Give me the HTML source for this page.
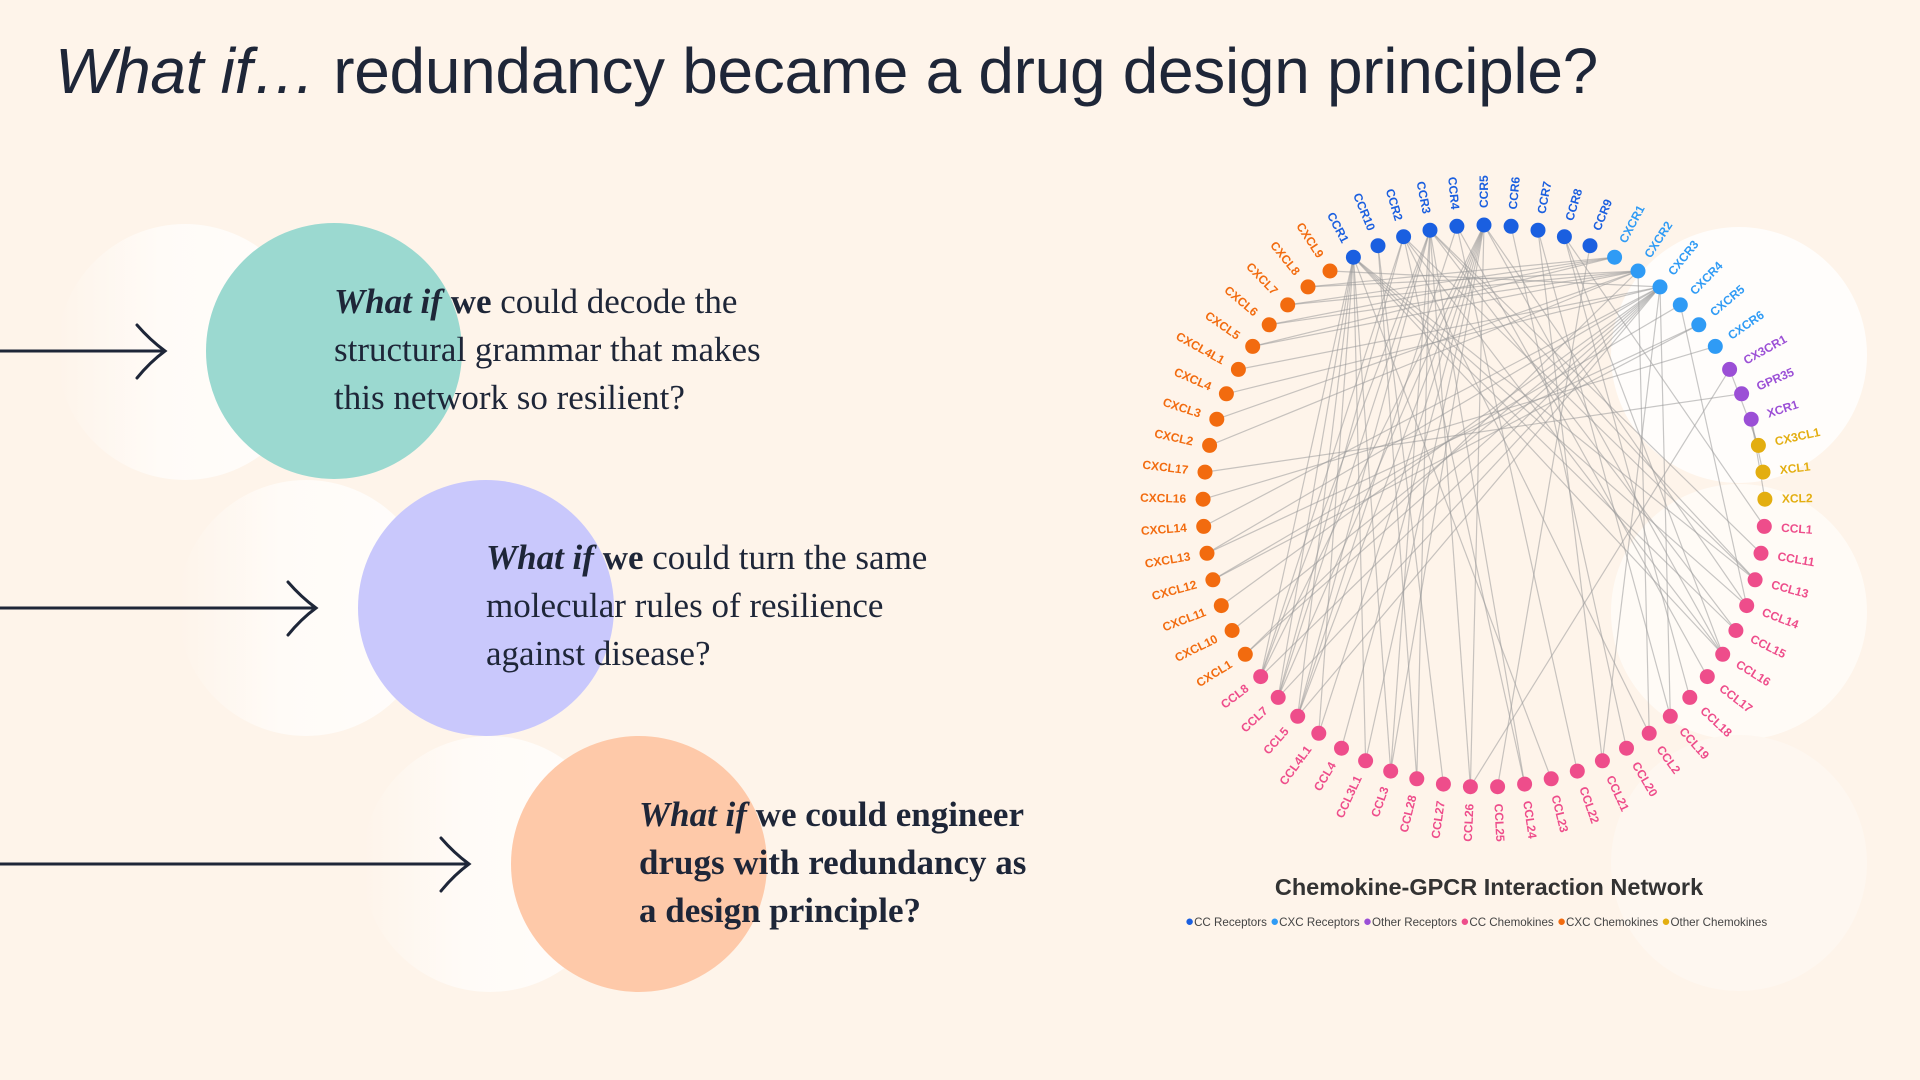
<!DOCTYPE html>
<html><head><meta charset="utf-8"><style>
html,body{margin:0;padding:0}
body{width:1920px;height:1080px;background:#fef4ea;position:relative;overflow:hidden;font-family:"Liberation Sans",sans-serif}
.c{position:absolute;border-radius:50%}
.pale{background:linear-gradient(90deg,#fef4ea 0%,#fffbf7 40%,#fffdfb 100%)}
.t{position:absolute;font-family:"Liberation Serif",serif;font-size:35px;line-height:48px;color:#1e2638;white-space:nowrap}
.t i{font-weight:bold}
h1{position:absolute;left:55px;top:34px;margin:0;font-weight:500;font-size:64px;color:#1e2638;letter-spacing:-0.3px;white-space:nowrap}
</style></head><body>
<h1><i>What if…</i> redundancy became a drug design principle?</h1>

<div class="c pale" style="left:1611px;top:227px;width:256px;height:256px;background:#fffdfb"></div>
<div class="c pale" style="left:1611px;top:484px;width:256px;height:256px;background:#fffbf6"></div>
<div class="c pale" style="left:1611px;top:735px;width:256px;height:256px;background:#fef7f0"></div>

<div class="c pale" style="left:57px;top:224px;width:256px;height:256px"></div>
<div class="c" style="left:206px;top:223px;width:256px;height:256px;background:#9bd9d0"></div>
<div class="c pale" style="left:178px;top:480px;width:256px;height:256px"></div>
<div class="c" style="left:358px;top:480px;width:256px;height:256px;background:#c9c8fc"></div>
<div class="c pale" style="left:362px;top:736px;width:256px;height:256px"></div>
<div class="c" style="left:511px;top:736px;width:256px;height:256px;background:#fec9a9"></div>

<svg style="position:absolute;left:0;top:0" width="700" height="1080">
<g fill="none" stroke="#1e2638" stroke-width="3" stroke-linecap="round">
<path d="M0 351H165M137 325Q150 340 165 351Q150 362 137 378"/>
<path d="M0 608H316M288 582Q301 597 316 608Q301 619 288 635"/>
<path d="M0 864H469M441 838Q454 853 469 864Q454 875 441 891"/>
</g></svg>

<div class="t" style="left:334px;top:278px"><i>What if</i> <b>we</b> could decode the<br>structural grammar that makes<br>this network so resilient?</div>
<div class="t" style="left:486px;top:534px"><i>What if</i> <b>we</b> could turn the same<br>molecular rules of resilience<br>against disease?</div>
<div class="t" style="left:639px;top:791px;font-weight:bold"><i>What if</i> we could engineer<br>drugs with redundancy as<br>a design principle?</div>

<svg id="net" style="position:absolute;left:0;top:0" width="1920" height="1080"></svg>
<div style="position:absolute;left:1189px;top:874px;width:600px;text-align:center;font-weight:bold;font-size:23.5px;color:#333">Chemokine-GPCR Interaction Network</div>
<div style="position:absolute;left:1185px;top:913px;font-size:11.6px;color:#444;white-space:nowrap">
<span style="color:#1a5fe0;font-size:15px">●</span>CC Receptors <span style="color:#2f9bf5;font-size:15px">●</span>CXC Receptors <span style="color:#9b4fd6;font-size:15px">●</span>Other Receptors <span style="color:#ee4d8b;font-size:15px">●</span>CC Chemokines <span style="color:#f26b0f;font-size:15px">●</span>CXC Chemokines <span style="color:#e3ae10;font-size:15px">●</span>Other Chemokines</div>

<script>
var N=[["CCR1",0],["CCR10",0],["CCR2",0],["CCR3",0],["CCR4",0],["CCR5",0],["CCR6",0],["CCR7",0],["CCR8",0],["CCR9",0],
["CXCR1",1],["CXCR2",1],["CXCR3",1],["CXCR4",1],["CXCR5",1],["CXCR6",1],["CX3CR1",2],["GPR35",2],["XCR1",2],
["CX3CL1",5],["XCL1",5],["XCL2",5],
["CCL1",3],["CCL11",3],["CCL13",3],["CCL14",3],["CCL15",3],["CCL16",3],["CCL17",3],["CCL18",3],["CCL19",3],["CCL2",3],["CCL20",3],["CCL21",3],["CCL22",3],["CCL23",3],["CCL24",3],["CCL25",3],["CCL26",3],["CCL27",3],["CCL28",3],["CCL3",3],["CCL3L1",3],["CCL4",3],["CCL4L1",3],["CCL5",3],["CCL7",3],["CCL8",3],
["CXCL1",4],["CXCL10",4],["CXCL11",4],["CXCL12",4],["CXCL13",4],["CXCL14",4],["CXCL16",4],["CXCL17",4],["CXCL2",4],["CXCL3",4],["CXCL4",4],["CXCL4L1",4],["CXCL5",4],["CXCL6",4],["CXCL7",4],["CXCL8",4],["CXCL9",4]];
var col=["#1a5fe0","#2f9bf5","#9b4fd6","#ee4d8b","#f26b0f","#e3ae10"];
var E={CCR1:"CCL3 CCL5 CCL7 CCL8 CCL13 CCL14 CCL15 CCL16 CCL23 CCL3L1 CCL4L1",CCR10:"CCL27 CCL28",CCR2:"CCL2 CCL7 CCL8 CCL13 CCL16 CCL24",
CCR3:"CCL11 CCL24 CCL26 CCL5 CCL7 CCL8 CCL13 CCL15 CCL28 CCL3",CCR4:"CCL17 CCL22 CCL5",CCR5:"CCL3 CCL4 CCL5 CCL8 CCL3L1 CCL4L1 CCL14 CCL16 CCL7 CCL26",
CCR6:"CCL20",CCR7:"CCL19 CCL21",CCR8:"CCL1 CCL18 CCL16",CCR9:"CCL25",CXCR1:"CXCL6 CXCL8 CXCL7 CXCL5",CXCR2:"CXCL1 CXCL2 CXCL3 CXCL5 CXCL6 CXCL7 CXCL8 CCL2",
CXCR3:"CXCL9 CXCL10 CXCL11 CXCL4 CXCL4L1 CCL5 CCL7 CCL8 CXCL13 CCL19 CCL21 CXCL1 CXCL14",CXCR4:"CXCL12 CCL14",CXCR5:"CXCL13 CXCL12",CXCR6:"CXCL16",CX3CR1:"CX3CL1 CCL26",GPR35:"CXCL17",XCR1:"XCL1 XCL2"};
var cx=1484,cy=506,R=281,n=N.length,step=2*Math.PI/n,pos={};
N.forEach(function(d,i){var a=-Math.PI/2+(i-5)*step;pos[d[0]]=[cx+R*Math.cos(a),cy+R*Math.sin(a),a,d[1]];});
var s="";
for(var k in E){E[k].split(" ").forEach(function(t){var p=pos[k],q=pos[t];if(!q)return;
s+='<line x1="'+p[0].toFixed(1)+'" y1="'+p[1].toFixed(1)+'" x2="'+q[0].toFixed(1)+'" y2="'+q[1].toFixed(1)+'" stroke="#999" stroke-opacity="0.55" stroke-width="1.2"/>';});}
N.forEach(function(d){var p=pos[d[0]],a=p[2],deg=a*180/Math.PI,c=col[d[1]];
s+='<circle cx="'+p[0].toFixed(1)+'" cy="'+p[1].toFixed(1)+'" r="7.5" fill="'+c+'"/>';
var lx=cx+(R+17)*Math.cos(a),ly=cy+(R+17)*Math.sin(a),left=Math.cos(a)<-0.001,rot=left?deg+180:deg;
s+='<text x="'+lx.toFixed(1)+'" y="'+ly.toFixed(1)+'" transform="rotate('+rot.toFixed(1)+' '+lx.toFixed(1)+' '+ly.toFixed(1)+')" text-anchor="'+(left?"end":"start")+'" dominant-baseline="central" font-family="Liberation Sans,sans-serif" font-weight="bold" font-size="12" fill="'+c+'">'+d[0]+'</text>';});
document.getElementById("net").innerHTML=s;
</script>
</body></html>
